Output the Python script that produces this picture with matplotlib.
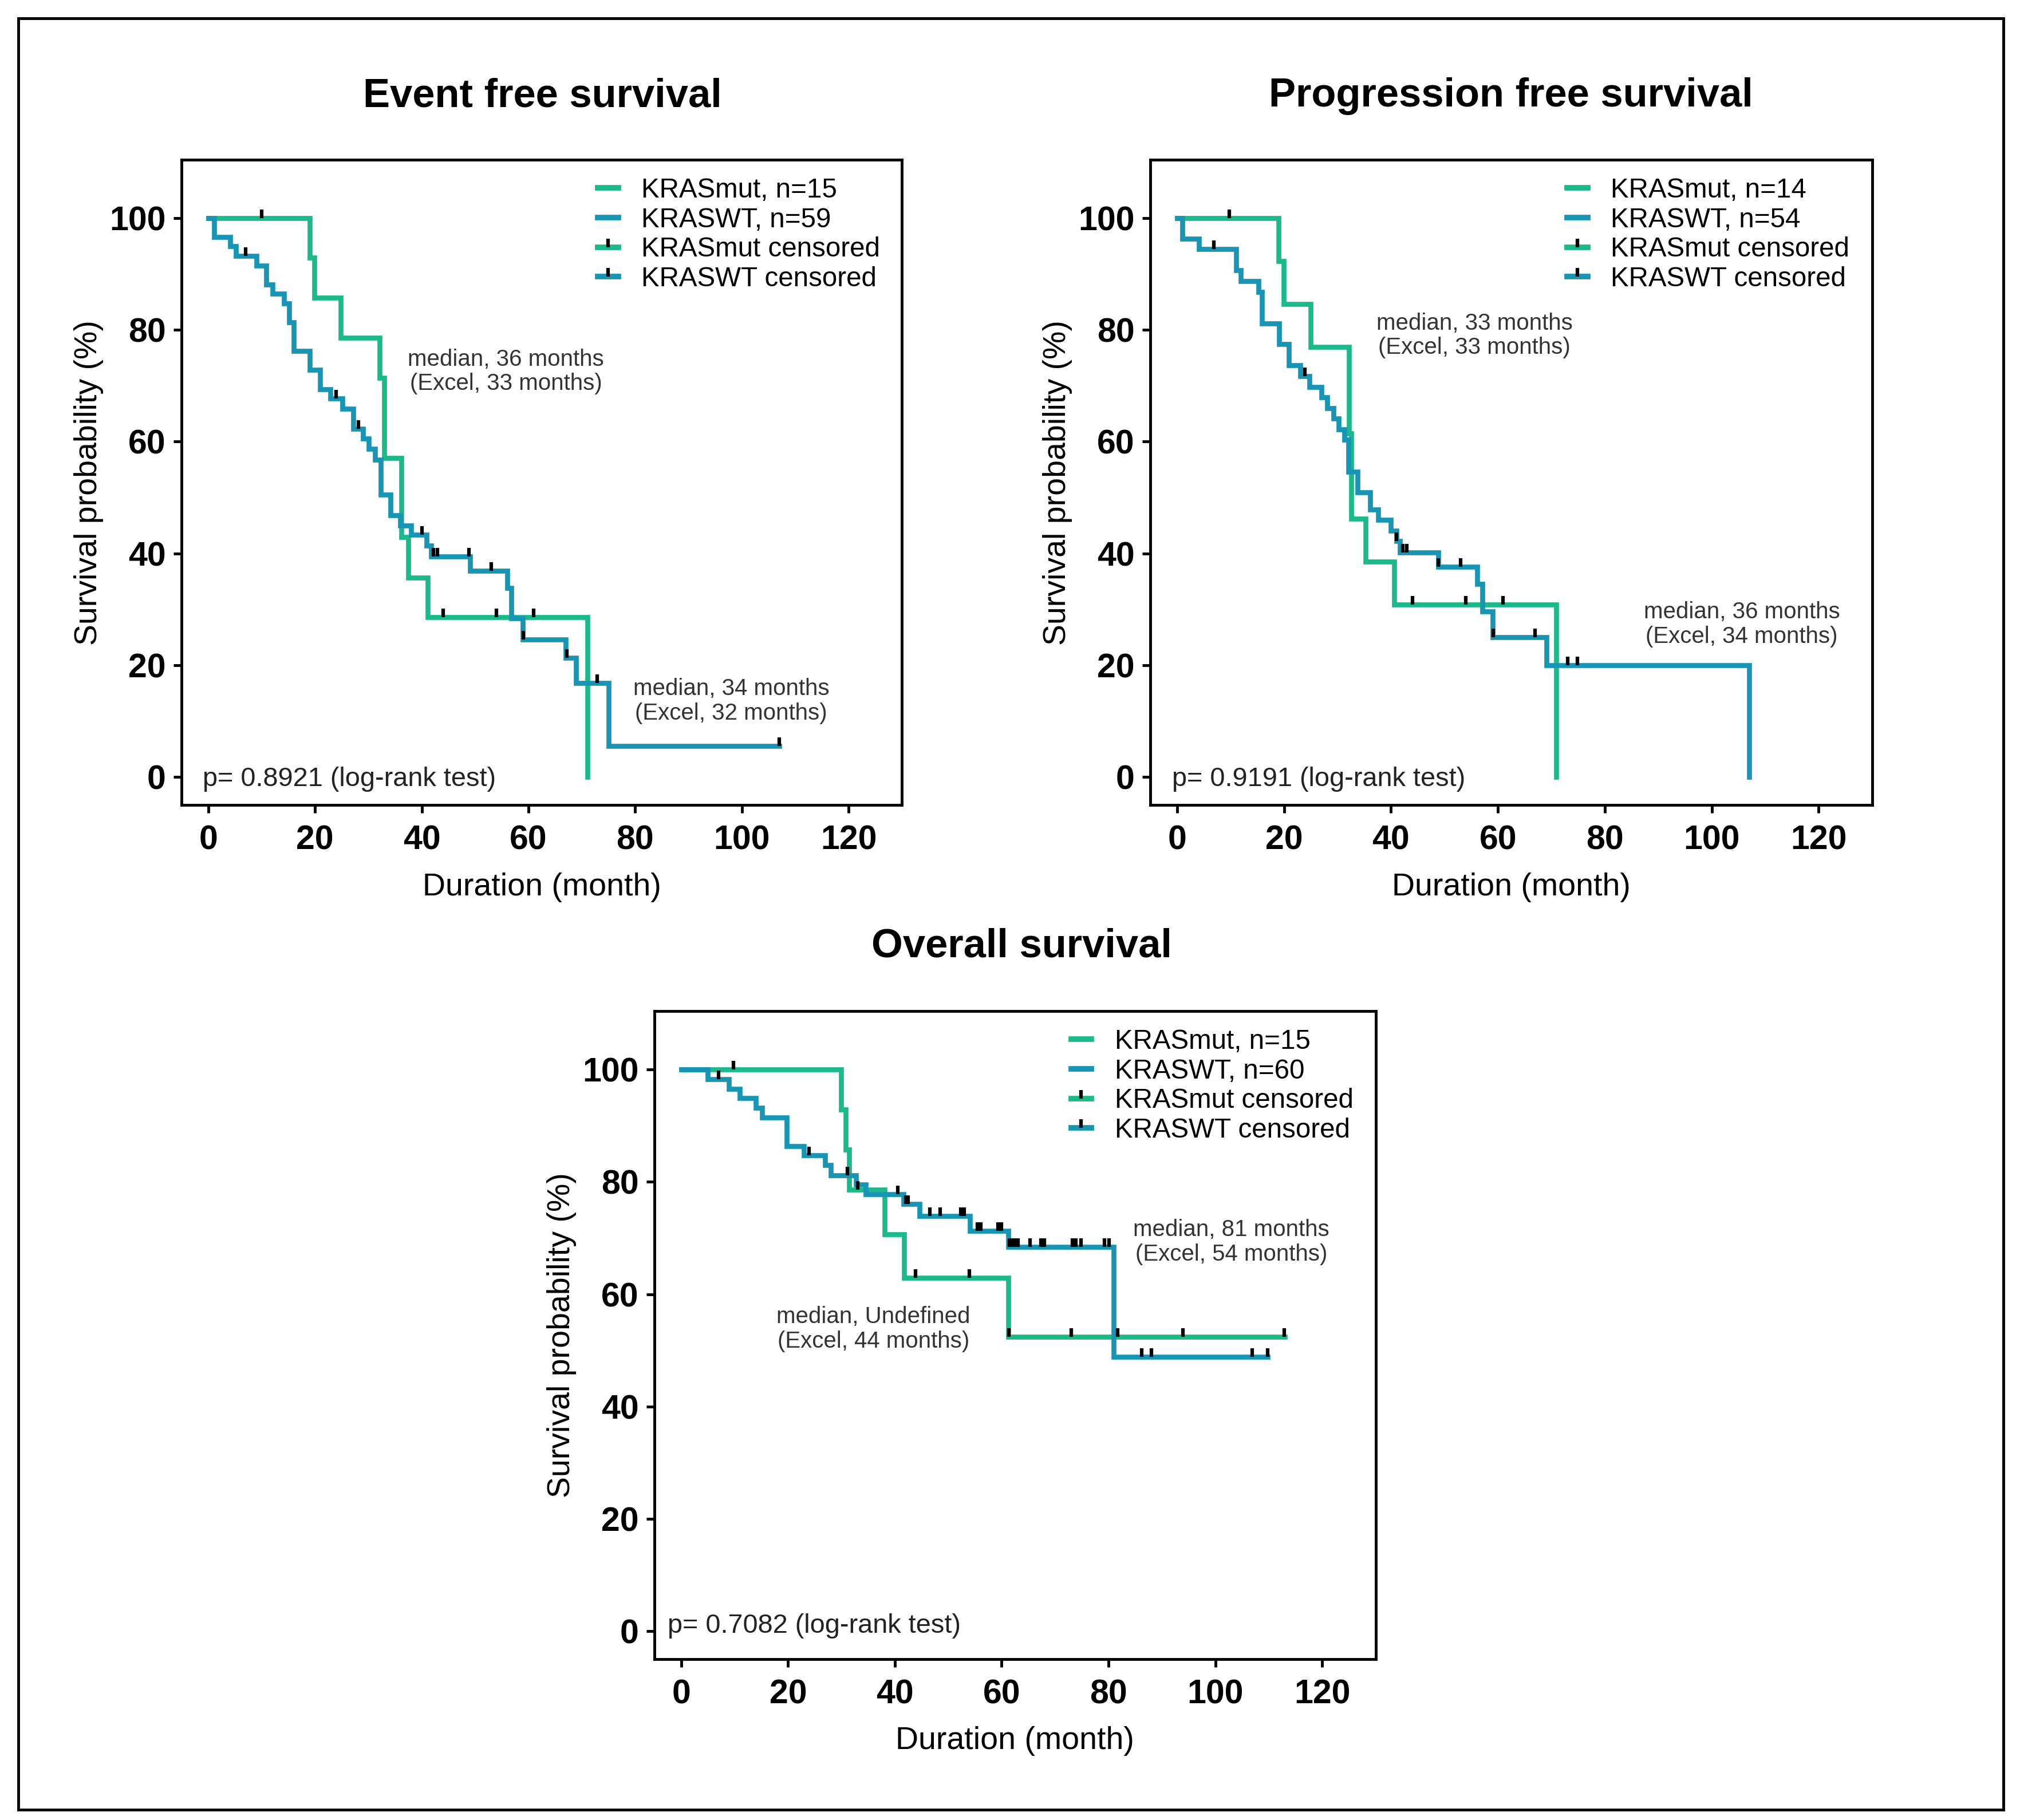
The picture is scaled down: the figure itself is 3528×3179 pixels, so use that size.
import matplotlib
matplotlib.use('Agg')
import numpy as np
import matplotlib.pyplot as plt
from matplotlib.lines import Line2D
from matplotlib.path import Path
from matplotlib.patches import Rectangle

plt.rcParams['font.family'] = ['Liberation Sans', 'DejaVu Sans']

GREEN = '#1cb98a'
BLUE = '#1895b5'

# Event free survival
efs_mut_t = [0, 19.0, 19.9, 24.8, 32.1, 33.0, 36.2, 37.5, 41.1, 71.1]
efs_mut_s = [100, 92.9, 85.7, 78.6, 71.4, 57.1, 42.9, 35.7, 28.6, 0]
efs_mut_end = 71.1
efs_mut_cens = [10.0, 44.0, 54.0, 61.0]

efs_wt_t = [0, 1.1, 4.1, 5.2, 9.0, 10.9, 12.0, 14.2, 15.2, 16.0, 19.0, 21.0, 22.9, 25.1,
            27.2, 29.0, 30.1, 31.2, 32.3, 34.2, 36.0, 38.0, 40.9, 41.8, 49.1, 56.0, 56.8,
            58.9, 67.0, 68.9, 75.0]
efs_wt_s = [100, 96.6, 94.9, 93.2, 91.5, 88.1, 86.4, 84.7, 81.3, 76.2, 72.8, 69.4, 67.7, 65.9,
            62.3, 60.5, 58.7, 56.8, 50.5, 46.8, 45.0, 43.3, 41.4, 39.4, 36.9, 33.8, 28.4,
            24.6, 21.3, 16.8, 5.6]
efs_wt_end = 107.0
efs_wt_cens = [7.0, 24.0, 28.1, 40.0, 42.2, 43.0, 48.9, 53.0, 59.0, 67.2, 72.9, 107.0]

# Progression free survival
pfs_mut_t = [0, 19.0, 19.9, 25.0, 32.1, 32.6, 35.2, 40.6, 70.9]
pfs_mut_s = [100, 92.3, 84.6, 76.9, 61.5, 46.2, 38.5, 30.8, 0]
pfs_mut_end = 70.9
pfs_mut_cens = [9.8, 44.0, 54.0, 61.0]

pfs_wt_t = [0, 1.0, 4.1, 11.0, 11.9, 15.2, 15.9, 19.1, 20.9, 23.0, 24.8, 27.0, 28.1, 29.3,
            30.2, 31.3, 32.0, 33.8, 36.1, 37.6, 40.0, 41.0, 41.7, 48.9, 56.1, 57.1, 59.0,
            69.1, 107.0]
pfs_wt_s = [100, 96.3, 94.4, 90.6, 88.7, 86.8, 81.1, 77.4, 73.6, 71.7, 69.8, 67.9, 66.0, 64.1,
            62.2, 60.3, 54.6, 50.9, 47.8, 46.0, 44.1, 42.2, 40.2, 37.6, 34.5, 29.6, 25.0,
            20.0, 0]
pfs_wt_end = 107.0
pfs_wt_cens = [6.9, 23.9, 41.0, 42.2, 43.0, 48.9, 53.0, 59.1, 67.0, 73.0, 74.9]

# Overall survival
os_mut_t = [0, 29.9, 30.8, 31.4, 38.1, 41.7, 61.2]
os_mut_s = [100, 92.9, 85.7, 78.6, 70.7, 62.9, 52.4]
os_mut_end = 113.0
os_mut_cens = [9.8, 33.0, 43.9, 53.9, 61.3, 73.0, 81.7, 93.9, 112.9]

os_wt_t = [0, 5.0, 8.9, 11.0, 14.0, 15.1, 19.8, 23.0, 26.9, 28.0, 32.7, 34.5, 41.6, 44.6,
           54.0, 61.2, 81.0]
os_wt_s = [100, 98.3, 96.6, 94.9, 93.2, 91.5, 86.4, 84.7, 83.0, 81.2, 79.5, 77.8, 76.1, 73.9,
           71.3, 68.4, 48.8]
os_wt_end = 109.8
os_wt_cens = [7.0, 23.9, 31.1, 40.5, 42.0, 42.5, 46.6, 48.5, 52.3, 53.0, 55.4, 56.1, 59.3,
              59.9, 61.4, 62.0, 62.6, 63.1, 65.3, 67.3, 68.0, 73.2, 73.9, 74.8, 79.2, 80.1,
              86.2, 88.0, 106.9, 109.8]

tick_mark = Path([(0, 0), (0, 1)], [Path.MOVETO, Path.LINETO])


def km(ax, t, s, end, cens, color):
    ax.step(list(t) + [end], list(s) + [s[-1]], where='post', color=color, lw=2.5,
            solid_joinstyle='miter', zorder=2)
    t_arr = np.asarray(t)
    s_arr = np.asarray(s)
    idx = np.searchsorted(t_arr, cens, side='right') - 1
    ax.plot(cens, s_arr[idx], ls='none', marker=tick_mark, ms=8.5, mew=1.8,
            mec='black', zorder=3)


def setup(ax, n_mut, n_wt):
    ax.set_xlim(-5, 130)
    ax.set_ylim(-5, 110.4)
    ax.set_xticks(range(0, 121, 20))
    ax.set_yticks(range(0, 101, 20))
    ax.tick_params(direction='out', length=4, width=1.4, labelsize=17)
    ax.tick_params(axis='x', pad=6)
    ax.tick_params(axis='y', pad=4)
    for lab in ax.get_xticklabels() + ax.get_yticklabels():
        lab.set_fontweight('bold')
    ax.set_xlabel('Duration (month)', fontsize=16, labelpad=8)
    ax.set_ylabel('Survival probability (%)', fontsize=16, labelpad=3)
    for sp in ax.spines.values():
        sp.set_linewidth(1.4)
    handles = [Line2D([], [], color=GREEN, lw=2.8),
               Line2D([], [], color=BLUE, lw=2.8),
               Line2D([], [], color=GREEN, lw=2.8, marker=tick_mark, ms=8.5, mec='black', mew=1.8),
               Line2D([], [], color=BLUE, lw=2.8, marker=tick_mark, ms=8.5, mec='black', mew=1.8)]
    labels = [f'KRASmut, n={n_mut}', f'KRASWT, n={n_wt}', 'KRASmut censored', 'KRASWT censored']
    ax.legend(handles, labels, loc='upper left', bbox_to_anchor=(0.555, 0.998), frameon=False,
              fontsize=13.7, handlelength=0.75, handletextpad=0.85, labelspacing=0.14,
              borderaxespad=0.2)


def note(ax, x, y, txt):
    ax.text(x, y, txt, ha='center', va='center', fontsize=11.6, color='#333333',
            linespacing=1.15)


fig = plt.figure(figsize=(14.112, 12.716), dpi=250)

ax1 = fig.add_axes([0.0899, 0.5577, 0.3566, 0.3545])
km(ax1, efs_mut_t, efs_mut_s, efs_mut_end, efs_mut_cens, GREEN)
km(ax1, efs_wt_t, efs_wt_s, efs_wt_end, efs_wt_cens, BLUE)
setup(ax1, 15, 59)
note(ax1, 55.8, 72.5, 'median, 36 months\n(Excel, 33 months)')
note(ax1, 98.0, 13.6, 'median, 34 months\n(Excel, 32 months)')
ax1.text(-1, -0.4, 'p= 0.8921 (log-rank test)', ha='left', va='center', fontsize=13.5,
         color='#222222')

ax2 = fig.add_axes([0.5695, 0.5577, 0.3573, 0.3545])
km(ax2, pfs_mut_t, pfs_mut_s, pfs_mut_end, pfs_mut_cens, GREEN)
km(ax2, pfs_wt_t, pfs_wt_s, pfs_wt_end, pfs_wt_cens, BLUE)
setup(ax2, 14, 54)
note(ax2, 55.6, 79.0, 'median, 33 months\n(Excel, 33 months)')
note(ax2, 105.6, 27.3, 'median, 36 months\n(Excel, 34 months)')
ax2.text(-1, -0.4, 'p= 0.9191 (log-rank test)', ha='left', va='center', fontsize=13.5,
         color='#222222')

ax3 = fig.add_axes([0.324, 0.0884, 0.357, 0.356])
km(ax3, os_mut_t, os_mut_s, os_mut_end, os_mut_cens, GREEN)
km(ax3, os_wt_t, os_wt_s, os_wt_end, os_wt_cens, BLUE)
setup(ax3, 15, 60)
note(ax3, 103.0, 69.3, 'median, 81 months\n(Excel, 54 months)')
note(ax3, 36.0, 53.8, 'median, Undefined\n(Excel, 44 months)')
ax3.text(-2.5, 0.9, 'p= 0.7082 (log-rank test)', ha='left', va='center', fontsize=13.5,
         color='#222222')

fig.text(0.2684, 0.947, 'Event free survival', ha='center', va='center', fontsize=20.3,
         fontweight='bold')
fig.text(0.7481, 0.947, 'Progression free survival', ha='center', va='center', fontsize=20.3,
         fontweight='bold')
fig.text(0.5057, 0.480, 'Overall survival', ha='center', va='center', fontsize=20.3,
         fontweight='bold')

fig.add_artist(Rectangle((32 / 3528, 1 - 3161 / 3179), (3499 - 32) / 3528, (3161 - 32) / 3179,
                         transform=fig.transFigure, fill=False, lw=1.4, ec='black'))

fig.savefig('out.png', dpi=250)
